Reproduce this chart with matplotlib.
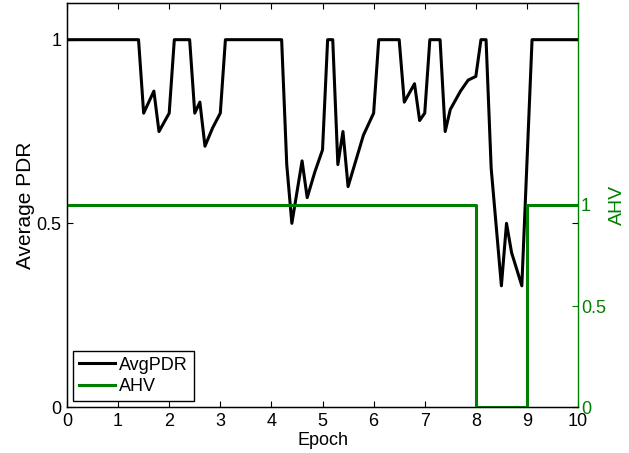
import matplotlib
matplotlib.use('Agg')
import matplotlib.pyplot as plt

# Average PDR per epoch (vertices)
epoch = [0, 1.4, 1.5, 1.7, 1.8, 2.0, 2.1, 2.4, 2.5, 2.6, 2.7, 2.85, 3.0, 3.1,
         4.2, 4.3, 4.4, 4.6, 4.7, 4.85, 5.0, 5.1, 5.2, 5.3, 5.4, 5.5, 5.65,
         5.8, 6.0, 6.1, 6.5, 6.6, 6.8, 6.9, 7.0, 7.1, 7.3, 7.4, 7.5, 7.7,
         7.85, 8.0, 8.1, 8.2, 8.3, 8.5, 8.6, 8.7, 8.9, 9.1, 10]
avg_pdr = [1, 1, 0.80, 0.86, 0.75, 0.80, 1, 1, 0.80, 0.83, 0.71, 0.76, 0.80, 1,
           1, 0.66, 0.50, 0.67, 0.57, 0.64, 0.70, 1, 1, 0.66, 0.75, 0.60, 0.67,
           0.74, 0.80, 1, 1, 0.83, 0.88, 0.78, 0.80, 1, 1, 0.75, 0.81, 0.86,
           0.89, 0.90, 1, 1, 0.65, 0.33, 0.50, 0.42, 0.33, 1, 1]

# AHV step signal
ahv_epoch = [0, 8, 8, 9, 9, 10]
ahv = [1, 1, 0, 0, 1, 1]

x_ticks = list(range(0, 11))
left_ticks = [0, 0.5, 1]
right_ticks = [0, 0.5, 1]

plt.rcParams['font.family'] = ['Liberation Sans', 'DejaVu Sans']
green = '#008000'

fig = plt.figure(figsize=(6.29, 4.53), dpi=100)
ax1 = fig.add_axes([0.1065, 0.1015, 0.8125, 0.892])
ax2 = ax1.twinx()

l1, = ax1.plot(epoch, avg_pdr, color='black', linewidth=2.2, label='AvgPDR')
l2, = ax2.plot(ahv_epoch, ahv, color=green, linewidth=2.2, label='AHV')

ax1.set_xlim(0, 10)
ax1.set_ylim(0, 1.1)
ax2.set_ylim(0, 2)

ax1.set_xticks(x_ticks)
ax1.set_xticklabels([str(t) for t in x_ticks])
ax1.set_yticks(left_ticks)
ax1.set_yticklabels(['0', '0.5', '1'])
ax2.set_yticks(right_ticks)
ax2.set_yticklabels(['0', '0.5', '1'])

ax1.tick_params(direction='in', length=4, width=0.8, labelsize=13, pad=4,
                top=True, right=True, colors='black')
ax2.tick_params(direction='in', length=4, width=0.8, labelsize=13, pad=2,
                colors=green)

ax1.set_xlabel('Epoch', fontsize=13, labelpad=2)
ax1.set_ylabel('Average PDR', fontsize=15, labelpad=1)
ax2.set_ylabel('AHV', fontsize=14, color=green, labelpad=2)

for s in ['left', 'top', 'bottom']:
    ax1.spines[s].set_linewidth(1.0)
ax2.spines['right'].set_color(green)
ax2.spines['right'].set_linewidth(1.0)
ax1.spines['right'].set_visible(False)

leg = ax2.legend(handles=[l1, l2], loc='lower left', fontsize=13,
                 fancybox=False, framealpha=1, edgecolor='black',
                 borderaxespad=0.35, handlelength=2.0, handletextpad=0.25,
                 borderpad=0.3, labelspacing=0.25)
leg.get_frame().set_linewidth(1.0)

fig.savefig('out.png', dpi=100)
